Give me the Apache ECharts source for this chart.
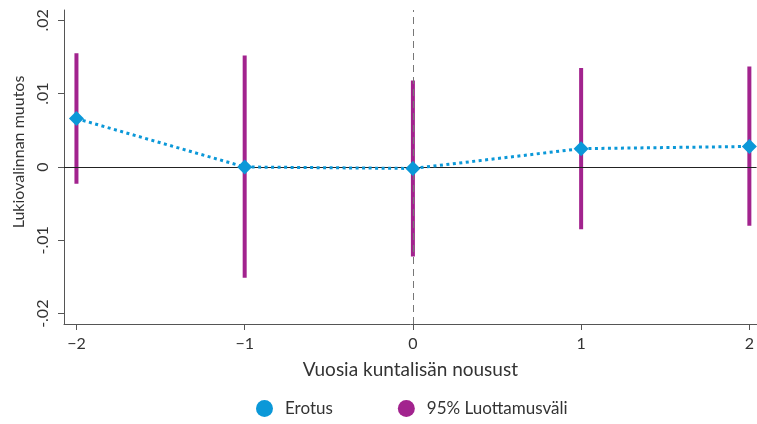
<!DOCTYPE html>
<html>
<head>
<meta charset="utf-8">
<script src="https://cdn.jsdelivr.net/npm/echarts@6/dist/echarts.min.js"></script>
<style>html,body{margin:0;padding:0;background:#fff;}#c{width:757px;height:424px;}</style>
</head>
<body>
<div id="c"></div>
<script>
var years = [-2, -1, 0, 1, 2];
var erotus = [0.0066, 0.0000, -0.0002, 0.0025, 0.0028];
var ciLow = [-0.0023, -0.0151, -0.0122, -0.0085, -0.0080];
var ciHigh = [0.0155, 0.0152, 0.0118, 0.0135, 0.0137];
var xTickValues = [-2, -1, 0, 1, 2];
var xTickLabels = ['\u22122', '\u22121', '0', '1', '2'];
var yTickValues = [-0.02, -0.01, 0, 0.01, 0.02];
var yTickLabels = ['-.02', '-.01', '0', '.01', '.02'];

var BLUE = '#0b98d8';
var PURPLE = '#a2238e';
var FONT = 'Lato';

var chart = echarts.init(document.getElementById('c'));
function lab(values, labels, v) {
  for (var i = 0; i < values.length; i++) if (Math.abs(values[i] - v) < 1e-9) return labels[i];
  return '';
}
chart.setOption({
  animation: false,
  textStyle: {fontFamily: FONT},
  grid: {left: 64, top: 10, right: 0, bottom: 100},
  legend: {
    bottom: 2, left: 251, itemGap: 65, itemWidth: 31, itemHeight: 17, symbolKeepAspect: true,
    textStyle: {fontFamily: FONT, fontSize: 17, color: '#333'},
    data: [{name: 'Erotus', icon: 'circle', itemStyle: {color: BLUE}},
           {name: '95% Luottamusväli', icon: 'circle', itemStyle: {color: PURPLE}}]
  },
  xAxis: {
    type: 'value', min: -2.074, max: 2.043,
    name: 'Vuosia kuntalisän nousust', nameLocation: 'middle', nameGap: 36,
    nameTextStyle: {fontFamily: FONT, fontSize: 19, color: '#333'},
    axisLine: {show: true, onZero: false, lineStyle: {color: '#555', width: 1}},
    axisTick: {show: true, length: 6, customValues: xTickValues, lineStyle: {color: '#555'}},
    axisLabel: {customValues: xTickValues, margin: 12, fontSize: 16, color: '#333', fontFamily: FONT,
      formatter: function (v) { return lab(xTickValues, xTickLabels, v); }},
    splitLine: {show: false}
  },
  yAxis: {
    type: 'value', min: -0.0214, max: 0.0214,
    axisLine: {show: true, onZero: false, lineStyle: {color: '#555', width: 1}},
    axisTick: {show: true, length: 6, customValues: yTickValues, lineStyle: {color: '#555'}},
    axisLabel: {customValues: yTickValues, rotate: 90, margin: 13, fontSize: 16, color: '#333', fontFamily: FONT,
      formatter: function (v) { return lab(yTickValues, yTickLabels, v); }},
    splitLine: {show: false}
  },
  graphic: [{
    type: 'text', x: 19, y: 152, rotation: Math.PI / 2,
    style: {text: 'Lukiovalinnan muutos', fontFamily: FONT, fontSize: 16, fill: '#333',
      align: 'center', verticalAlign: 'middle'}
  }],
  series: [
    {
      name: 'ref', type: 'line', data: [], silent: true,
      markLine: {
        silent: true, symbol: 'none', label: {show: false},
        data: [
          {yAxis: 0, lineStyle: {color: '#222', width: 1, type: 'solid'}},
          {xAxis: 0, lineStyle: {color: '#777', width: 1, type: [7, 5]}}
        ]
      }
    },
    {
      name: '95% Luottamusväli', type: 'custom',
      itemStyle: {color: PURPLE},
      data: years.map(function (x, i) { return [x, ciLow[i], ciHigh[i]]; }),
      renderItem: function (params, api) {
        var p1 = api.coord([api.value(0), api.value(1)]);
        var p2 = api.coord([api.value(0), api.value(2)]);
        return {type: 'line', shape: {x1: p1[0], y1: p1[1], x2: p2[0], y2: p2[1]},
          style: {stroke: PURPLE, lineWidth: 4}};
      },
      z: 3
    },
    {
      name: 'Erotus', type: 'line',
      data: years.map(function (x, i) { return [x, erotus[i]]; }),
      symbol: 'diamond', symbolSize: 15,
      itemStyle: {color: BLUE},
      lineStyle: {color: BLUE, width: 3, type: [3, 3.5]},
      z: 5
    }
  ]
});
</script>
</body>
</html>
